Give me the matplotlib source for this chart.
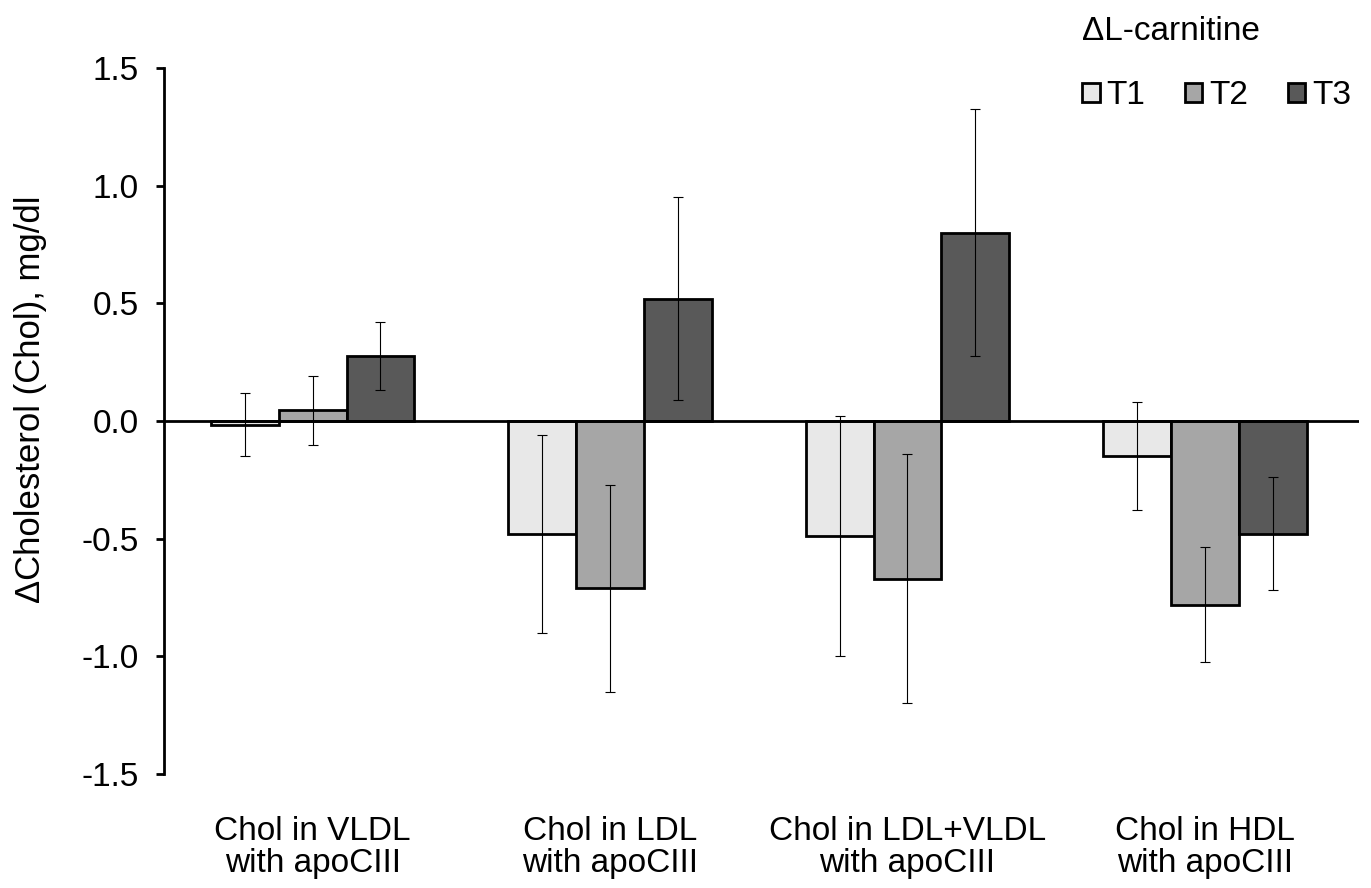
import numpy as np
import matplotlib.pyplot as plt
from matplotlib.patches import Patch

plt.rcParams['font.family'] = ['Liberation Sans', 'DejaVu Sans']

categories = ["Chol in VLDL\nwith apoCIII", "Chol in LDL\nwith apoCIII",
              "Chol in LDL+VLDL\nwith apoCIII", "Chol in HDL\nwith apoCIII"]
series = ["T1", "T2", "T3"]
colors = ["#e8e8e8", "#a6a6a6", "#595959"]

# mean changes, mg/dl
t1 = [-0.015, -0.48, -0.49, -0.15]
t2 = [0.045, -0.71, -0.67, -0.78]
t3 = [0.275, 0.52, 0.80, -0.48]
# error bar half-widths
t1_err = [0.135, 0.42, 0.51, 0.23]
t2_err = [0.145, 0.44, 0.53, 0.245]
t3_err = [0.145, 0.43, 0.525, 0.24]

means = [t1, t2, t3]
errs = [t1_err, t2_err, t3_err]

fig = plt.figure(figsize=(13.71, 8.88), dpi=100)
ax = fig.add_axes([0.1196, 0.1284, 0.872, 0.795])

x = np.arange(len(categories))
w = 0.228
for i in range(3):
    ax.bar(x + (i - 1) * w, means[i], w, color=colors[i], edgecolor="black",
           linewidth=2.0, zorder=2)
    ax.errorbar(x + (i - 1) * w, means[i], yerr=errs[i], fmt="none",
                ecolor="black", elinewidth=0.8, capsize=3.5, capthick=0.8,
                zorder=3)

ax.axhline(0, color="black", linewidth=2.0, zorder=4)
ax.set_xlim(-0.5, 3.52)
ax.set_ylim(-1.5, 1.5)
ax.set_yticks([-1.5, -1.0, -0.5, 0.0, 0.5, 1.0, 1.5])
ax.set_yticklabels([f"{v:.1f}" for v in ax.get_yticks()])
ax.set_xticks(x)
ax.set_xticklabels(categories, fontsize=24, linespacing=1.05)
ax.tick_params(axis="x", length=0, pad=30)
ax.tick_params(axis="y", labelsize=24, length=6, width=2.0, pad=12)
for s in ["top", "right", "bottom"]:
    ax.spines[s].set_visible(False)
ax.spines["left"].set_linewidth(2.0)
ax.set_ylabel("ΔCholesterol (Chol), mg/dl", fontsize=25)
ax.yaxis.set_label_coords(-0.098, 0.531)

handles = [Patch(facecolor=c, edgecolor="black", linewidth=2.0) for c in colors]
leg = fig.legend(handles, series, loc="upper right",
                 bbox_to_anchor=(1351 / 1371, 1 - 16 / 888),
                 ncol=3, frameon=False, fontsize=24, title="ΔL-carnitine",
                 title_fontsize=24, alignment="left", handlelength=0.52,
                 handleheight=0.52, handletextpad=0.2, columnspacing=1.2,
                 labelspacing=1.0, borderpad=0, borderaxespad=0)

fig.savefig("out.png", dpi=100)
